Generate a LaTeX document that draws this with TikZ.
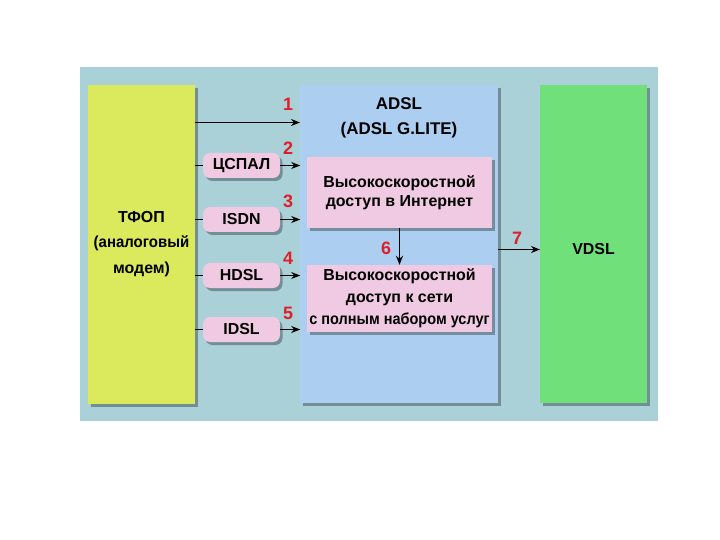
\documentclass[tikz,border=0pt]{standalone}
\usepackage{fontspec}
\setmainfont{Liberation Sans}
\usetikzlibrary{arrows.meta}
\definecolor{panel}{RGB}{170,208,216}
\definecolor{yel}{RGB}{218,234,92}
\definecolor{blu}{RGB}{172,206,240}
\definecolor{grn}{RGB}{112,224,122}
\definecolor{pnk}{RGB}{240,202,226}
\definecolor{numred}{RGB}{222,30,40}
\definecolor{shad}{RGB}{70,90,95}
\tikzset{
  shadowed/.style={preaction={fill=shad, opacity=0.55, transform canvas={shift={(2.5bp,-3bp)}}}},
  pill/.style={rounded corners=7bp, fill=pnk, shadowed, minimum width=77bp, minimum height=25bp, inner sep=0pt, font=\bfseries\fontsize{16}{18}\selectfont},
  txt/.style={font=\bfseries\fontsize{16}{21}\selectfont, align=center, inner sep=0pt},
  num/.style={text=numred, font=\bfseries\fontsize{18}{18}\selectfont, inner sep=0pt},
  arr/.style={-{Stealth[length=9bp,width=7bp]}, line width=1.7bp},
  ln/.style={line width=1.7bp}
}
\begin{document}
\begin{tikzpicture}[x=1bp,y=-1bp]
\useasboundingbox (0,0) rectangle (720,540);
\fill[white] (0,0) rectangle (720,540);
% panel
\fill[panel] (80,67) rectangle (658,421);
% main boxes
\fill[yel, shadowed] (88,85) rectangle (195,404);
\fill[blu, shadowed] (300,85) rectangle (498,403);
\fill[grn, shadowed] (540,85) rectangle (647,403);
% inner pink boxes
\node[fill=pnk, shadowed, minimum width=185bp, minimum height=71bp, inner sep=0pt] (p1) at (399.5,192.5) {};
\node[fill=pnk, shadowed, minimum width=185bp, minimum height=67bp, inner sep=0pt] (p2) at (399.5,298.5) {};
\node[txt, font=\bfseries\fontsize{16}{19}\selectfont] at (p1.center) {Высокоскоростной\\доступ в Интернет};
\node[txt, font=\bfseries\fontsize{16}{22}\selectfont] at (p2.center) {Высокоскоростной\\доступ к сети\\\scalebox{0.91}[1]{с полным набором услуг}};
% texts of main boxes
\node[txt, font=\bfseries\fontsize{16}{26}\selectfont] (tfop) at (141.5,244) {ТФОП\\\scalebox{0.94}[1]{(аналоговый}\\модем)};
\node[txt, font=\bfseries\fontsize{17}{25}\selectfont] (adsl) at (399,118) {ADSL\\(ADSL G.LITE)};
\node[txt] (vdsl) at (593.5,249) {VDSL};
% pills
\node[pill] (c2) at (241.5,165.5) {ЦСПАЛ};
\node[pill] (c3) at (241.5,219.5) {ISDN};
\node[pill] (c4) at (241.5,275.5) {HDSL};
\node[pill] (c5) at (241.5,329.5) {IDSL};
% connectors
\coordinate (a1s) at (195,122.5);
\coordinate (a1e) at (300,122.5);
\draw[arr] (a1s) -- (a1e);
\foreach \n in {2,3,4,5}{
  \draw[ln] (c\n.west) -- ++(-8,0);
  \draw[arr] (c\n.east) -- ++(20,0);
}
\draw[arr] (p1.south) -- (p2.north);
\coordinate (a7s) at (498,249.5);
\coordinate (a7e) at (540,249.5);
\draw[arr] (a7s) -- (a7e);
% numbers
\node[num] at (288,104) {1};
\node[num] at (288,148) {2};
\node[num] at (288,201) {3};
\node[num] at (288,258) {4};
\node[num] at (288,313) {5};
\node[num] at (386,248) {6};
\node[num] at (517,238) {7};
\end{tikzpicture}
\end{document}
